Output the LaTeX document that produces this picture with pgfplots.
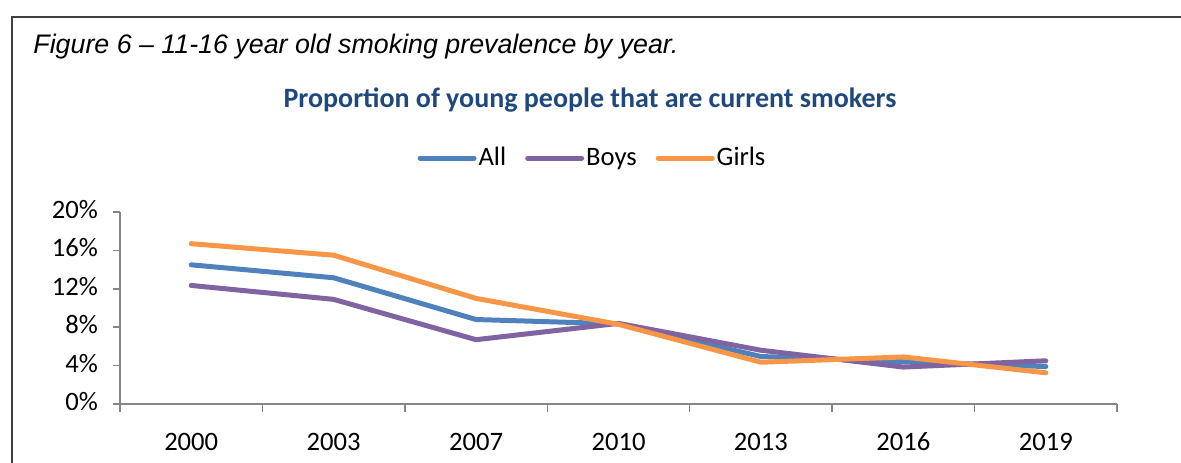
\documentclass[border=0pt]{standalone}
\usepackage{pgfplots}
\pgfplotsset{compat=1.18}
\usepackage{fontspec}
\setmainfont{Carlito}
\newfontfamily\capfont{Liberation Sans}
\definecolor{cAll}{HTML}{4F81BD}
\definecolor{cBoys}{HTML}{8064A2}
\definecolor{cGirls}{HTML}{F79646}
\definecolor{cTitle}{HTML}{1F497D}
\definecolor{cAxis}{HTML}{868686}
\begin{document}
\begin{tikzpicture}
\useasboundingbox (0,0) rectangle (590.5pt,231pt);
\draw[line width=1pt, black!75, line cap=rect] (6pt,0) -- (6pt,222.5pt) -- (590.5pt,222.5pt);
\node[anchor=base west, inner sep=0pt, font=\capfont\itshape\fontsize{13.4}{16}\selectfont] at (16.5pt,204.5pt) {Figure 6 – 11-16 year old smoking prevalence by year.};
\node[inner sep=0pt, font=\bfseries\fontsize{14}{16}\selectfont, text=cTitle] at (295pt,181pt) {Proportion of young people that are current smokers};
\begin{axis}[
  at={(60pt,29pt)}, anchor=south west,
  scale only axis, width=498.5pt, height=96pt,
  xmin=-0.5, xmax=6.5, ymin=0, ymax=20,
  axis x line*=bottom, axis y line*=left,
  axis line style={cAxis, line width=0.75pt},
  tick align=outside,
  xtick={0,...,6},
  xticklabels={2000,2003,2007,2010,2013,2016,2019},
  minor xtick={-0.5,0.5,...,6.5},
  major x tick style={draw=none},
  minor x tick style={cAxis, line width=0.75pt},
  minor tick length=4pt,
  ytick={0,4,...,20},
  yticklabels={0\%,4\%,8\%,12\%,16\%,20\%},
  y tick style={cAxis, line width=0.75pt},
  major tick length=3.5pt,
  typeset ticklabels with strut,
  tick label style={font=\fontsize{13.3}{16}\selectfont, black},
  x tick label style={yshift=-5pt},
  y tick label style={xshift=-4pt},
  legend columns=3,
  legend style={draw=none, fill=none, at={(0.4739,1.281)}, anchor=center,
    font=\fontsize{13.3}{16}\selectfont, inner sep=0pt,
    nodes={inner sep=1pt},
    /tikz/every even column/.append style={column sep=8.5pt}},
  legend cell align=left,
  legend image code/.code={\draw[#1, line cap=round] (0pt,0pt) -- (27pt,0pt);},
  every axis plot/.append style={line width=2.5pt, line join=round, line cap=round, mark=none},
]
\addplot[cAll] coordinates {(0,14.5) (1,13.15) (2,8.8) (3,8.35) (4,4.95) (5,4.4) (6,3.9)};
\addlegendentry{All}
\addplot[cBoys] coordinates {(0,12.35) (1,10.9) (2,6.7) (3,8.4) (4,5.6) (5,3.85) (6,4.5)};
\addlegendentry{Boys}
\addplot[cGirls] coordinates {(0,16.7) (1,15.5) (2,11.0) (3,8.3) (4,4.35) (5,4.9) (6,3.25)};
\addlegendentry{Girls}
\end{axis}
\end{tikzpicture}
\end{document}
